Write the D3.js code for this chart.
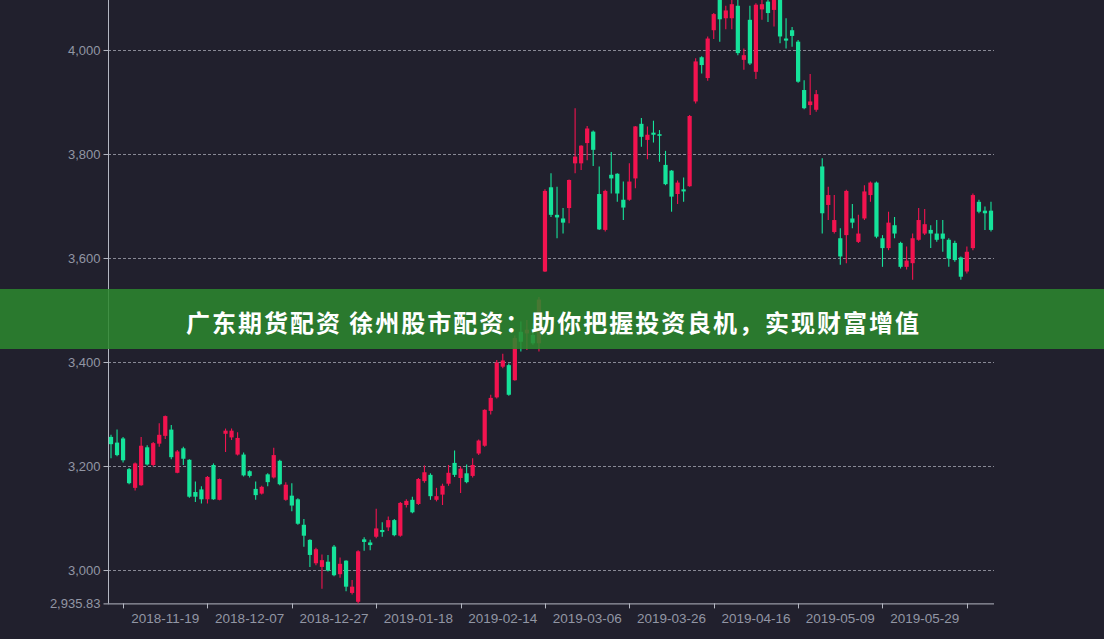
<!DOCTYPE html>
<html><head><meta charset="utf-8">
<script src="https://cdn.jsdelivr.net/npm/d3@7/dist/d3.min.js"></script>
<style>html,body{margin:0;padding:0;background:#21202D;}svg{display:block;}</style>
</head><body>
<script>
const dates = ["2018-11-06","2018-11-07","2018-11-08","2018-11-09","2018-11-12","2018-11-13","2018-11-14","2018-11-15","2018-11-16","2018-11-19","2018-11-20","2018-11-21","2018-11-22","2018-11-23","2018-11-26","2018-11-27","2018-11-28","2018-11-29","2018-11-30","2018-12-03","2018-12-04","2018-12-05","2018-12-06","2018-12-07","2018-12-10","2018-12-11","2018-12-12","2018-12-13","2018-12-14","2018-12-17","2018-12-18","2018-12-19","2018-12-20","2018-12-21","2018-12-24","2018-12-25","2018-12-26","2018-12-27","2018-12-28","2019-01-02","2019-01-03","2019-01-04","2019-01-07","2019-01-08","2019-01-09","2019-01-10","2019-01-11","2019-01-14","2019-01-15","2019-01-16","2019-01-17","2019-01-18","2019-01-21","2019-01-22","2019-01-23","2019-01-24","2019-01-25","2019-01-28","2019-01-29","2019-01-30","2019-01-31","2019-02-01","2019-02-11","2019-02-12","2019-02-13","2019-02-14","2019-02-15","2019-02-18","2019-02-19","2019-02-20","2019-02-21","2019-02-22","2019-02-25","2019-02-26","2019-02-27","2019-02-28","2019-03-01","2019-03-04","2019-03-05","2019-03-06","2019-03-07","2019-03-08","2019-03-11","2019-03-12","2019-03-13","2019-03-14","2019-03-15","2019-03-18","2019-03-19","2019-03-20","2019-03-21","2019-03-22","2019-03-25","2019-03-26","2019-03-27","2019-03-28","2019-03-29","2019-04-01","2019-04-02","2019-04-03","2019-04-04","2019-04-08","2019-04-09","2019-04-10","2019-04-11","2019-04-12","2019-04-15","2019-04-16","2019-04-17","2019-04-18","2019-04-19","2019-04-22","2019-04-23","2019-04-24","2019-04-25","2019-04-26","2019-04-29","2019-04-30","2019-05-06","2019-05-07","2019-05-08","2019-05-09","2019-05-10","2019-05-13","2019-05-14","2019-05-15","2019-05-16","2019-05-17","2019-05-20","2019-05-21","2019-05-22","2019-05-23","2019-05-24","2019-05-27","2019-05-28","2019-05-29","2019-05-30","2019-05-31","2019-06-03","2019-06-04","2019-06-05","2019-06-06","2019-06-10","2019-06-11","2019-06-12","2019-06-13","2019-06-14"];

const openV = [3256,3245,3253,3194,3158,3163,3236,3202,3243,3258,3270,3187,3234,3212,3150,3155,3136,3202,3135,3262,3255,3222,3222,3190,3156,3147,3184,3178,3210,3135,3143,3136,3087,3058,3013,3006,3016,3045,2992,3018,2956,2939,3059,3053,3064,3077,3082,3096,3066,3125,3135,3127,3171,3183,3135,3145,3166,3206,3177,3186,3181,3224,3239,3306,3332,3391,3394,3365,3458,3455,3452,3436,3574,3736,3683,3676,3696,3782,3782,3821,3843,3723,3654,3760,3762,3712,3712,3753,3858,3827,3841,3838,3779,3768,3723,3732,3738,3901,3986,3946,4038,4105,4061,4061,4085,3981,4058,3958,4078,4093,4077,4100,4022,4038,4016,3923,3894,3885,3776,3702,3650,3638,3644,3676,3631,3676,3721,3745,3638,3619,3663,3629,3583,3590,3635,3647,3654,3647,3647,3635,3629,3601,3574,3619,3708,3691,3691];
const closeV = [3242,3221,3211,3167,3205,3239,3203,3244,3260,3296,3217,3228,3214,3141,3141,3136,3179,3136,3175,3268,3268,3254,3182,3181,3144,3160,3169,3221,3165,3164,3124,3089,3066,3029,3040,3019,2999,2990,3012,2968,2968,3036,3054,3048,3080,3073,3096,3067,3129,3133,3111,3175,3188,3142,3142,3162,3187,3183,3195,3169,3202,3249,3308,3331,3399,3403,3337,3446,3439,3462,3436,3520,3729,3683,3678,3668,3750,3795,3816,3849,3808,3655,3729,3753,3724,3697,3747,3853,3833,3837,3837,3835,3742,3718,3745,3728,3873,3978,3971,4022,4069,4059,4076,4088,3994,3990,3974,4087,4088,4071,4102,4026,4018,4027,3939,3888,3901,3915,3686,3721,3673,3603,3729,3668,3647,3728,3745,3641,3619,3668,3647,3583,3595,3638,3673,3665,3647,3635,3637,3599,3596,3564,3612,3721,3689,3686,3654];
const lowV = [3215,3219,3207,3165,3153,3162,3201,3199,3237,3252,3213,3186,3202,3139,3131,3128,3128,3135,3134,3227,3250,3220,3180,3178,3135,3145,3161,3176,3163,3133,3113,3087,3045,3006,3009,2964,2997,2988,2985,2959,2953,2935.83,3037,3038,3061,3064,3075,3065,3064,3120,3109,3125,3168,3135,3132,3125,3162,3179,3148,3167,3178,3221,3237,3299,3330,3388,3335,3364,3420,3423,3433,3420,3573,3679,3638,3647,3667,3763,3769,3788,3777,3654,3651,3724,3708,3673,3710,3734,3814,3790,3822,3785,3740,3689,3704,3708,3737,3897,3955,3941,4021,4016,4040,4040,3990,3962,3971,3944,4058,4054,4045,4013,4003,4006,3937,3886,3875,3881,3647,3673,3647,3587,3590,3657,3629,3673,3708,3638,3583,3615,3638,3580,3578,3558,3633,3644,3619,3631,3612,3583,3593,3558,3570,3615,3686,3654,3651];
const highV = [3260,3270,3256,3196,3207,3256,3240,3246,3282,3297,3279,3231,3237,3213,3170,3161,3181,3205,3176,3272,3272,3265,3226,3192,3170,3162,3186,3235,3212,3169,3167,3138,3098,3059,3043,3030,3029,3048,3024,3019,2981,3038,3063,3058,3118,3092,3103,3098,3131,3136,3141,3177,3201,3186,3158,3166,3202,3230,3199,3203,3215,3251,3309,3337,3404,3416,3397,3451,3478,3481,3474,3525,3732,3763,3737,3696,3751,3888,3817,3854,3845,3776,3731,3804,3763,3747,3782,3854,3869,3853,3864,3846,3806,3769,3749,3755,3875,3984,3988,4026,4071,4126.09,4085,4102,4100,4003,4085,4090,4105,4108,4118,4110,4061,4044,4019,3942,3954,3923,3792,3737,3721,3657,3731,3704,3683,3740,3747,3747,3644,3689,3679,3631,3622,3647,3696,3694,3663,3673,3673,3638,3633,3603,3622,3724,3712,3699,3708];

const yTickValues = [3000, 3200, 3400, 3600, 3800, 4000];
const tickIdx = [2,16,30,44,58,72,86,100,114,128,142];
const labelIdx = [9,23,37,51,65,79,93,107,121,135];
const titleText = "广东期货配资 徐州股市配资：助你把握投资良机，实现财富增值";

(function () {
const W = 1104, H = 639;
const pLeft = 108, pRight = 994, pBottom = 603.4, pTop = -15.6;
const upColor = "#F2134F", downColor = "#15E39A";
const textColor = "#9296a4";

const svg = d3.select("body").append("svg").attr("width", W).attr("height", H);
svg.append("rect").attr("width", W).attr("height", H).attr("fill", "#21202D");

const data = dates.map((d, i) => ({d, o: openV[i], c: closeV[i], l: lowV[i], h: highV[i]}));

const x = d3.scaleBand().domain(dates).range([pLeft, pRight]).paddingInner(0.3).paddingOuter(0.15);
const yMin = d3.min(lowV);
const y = d3.scaleLinear().domain([yMin, d3.max(highV)]).range([pBottom, pTop]);
const cx = d => x(d) + x.bandwidth() / 2;

// grid
svg.append("g").selectAll("line").data(yTickValues).join("line")
  .attr("x1", pLeft).attr("x2", pRight)
  .attr("y1", v => Math.round(y(v)) + 0.5).attr("y2", v => Math.round(y(v)) + 0.5)
  .attr("stroke", "#9a9ca8").attr("stroke-width", 1).attr("stroke-dasharray", "3,2").attr("opacity", 0.85);

// y axis
const yAxis = d3.axisLeft(y).tickValues(yTickValues.concat([yMin]))
  .tickFormat(v => v === yMin ? d3.format(",.2f")(v) : d3.format(",")(v))
  .tickSize(5).tickPadding(3);
const gy = svg.append("g").attr("transform", `translate(${pLeft + 0.5},0)`).call(yAxis);
gy.select(".domain").attr("stroke", "#b4b7c2").attr("d", `M0,${pTop}V${pBottom}`);
gy.selectAll(".tick line").attr("stroke", "#b4b7c2");
gy.selectAll(".tick text").attr("fill", textColor).attr("font-size", 13)
  .attr("font-family", "'Liberation Sans', Arial, sans-serif");

// x axis
const gx = svg.append("g");
gx.append("line").attr("x1", pLeft).attr("x2", pRight).attr("y1", pBottom + 0.5).attr("y2", pBottom + 0.5)
  .attr("stroke", "#b4b7c2");
gx.selectAll("line.tk").data(tickIdx).join("line").attr("class", "tk")
  .attr("x1", i => Math.round(cx(dates[i])) + 0.5).attr("x2", i => Math.round(cx(dates[i])) + 0.5)
  .attr("y1", pBottom).attr("y2", pBottom + 5).attr("stroke", "#b4b7c2");
gx.selectAll("text").data(labelIdx).join("text")
  .attr("x", i => cx(dates[i])).attr("y", 623)
  .attr("text-anchor", "middle").attr("fill", textColor).attr("font-size", 13.5)
  .attr("font-family", "'Liberation Sans', Arial, sans-serif")
  .text(i => dates[i]);

// candles
const gc = svg.append("g");
gc.selectAll("line.wick").data(data).join("line").attr("class", "wick")
  .attr("x1", d => cx(d.d)).attr("x2", d => cx(d.d))
  .attr("y1", d => y(d.h)).attr("y2", d => y(d.l))
  .attr("stroke", d => d.c >= d.o ? upColor : downColor).attr("stroke-width", 1.1);
gc.selectAll("rect.body").data(data).join("rect").attr("class", "body")
  .attr("x", d => x(d.d)).attr("width", x.bandwidth())
  .attr("y", d => y(Math.max(d.o, d.c)))
  .attr("height", d => Math.max(1, Math.abs(y(d.o) - y(d.c))))
  .attr("fill", d => d.c >= d.o ? upColor : downColor);

// banner
svg.append("rect").attr("x", 0).attr("y", 289).attr("width", W).attr("height", 60)
  .attr("fill", "rgb(44,136,47)").attr("opacity", 0.86);
svg.append("text").attr("x", 552.5).attr("y", 321)
  .attr("text-anchor", "middle").attr("dominant-baseline", "central")
  .attr("fill", "#ffffff").attr("font-size", 24).attr("font-weight", "bold")
  .attr("font-family", "'Noto Sans CJK SC', sans-serif")
  .attr("textLength", 733).attr("lengthAdjust", "spacing")
  .text(titleText);
})();
</script>
</body></html>
